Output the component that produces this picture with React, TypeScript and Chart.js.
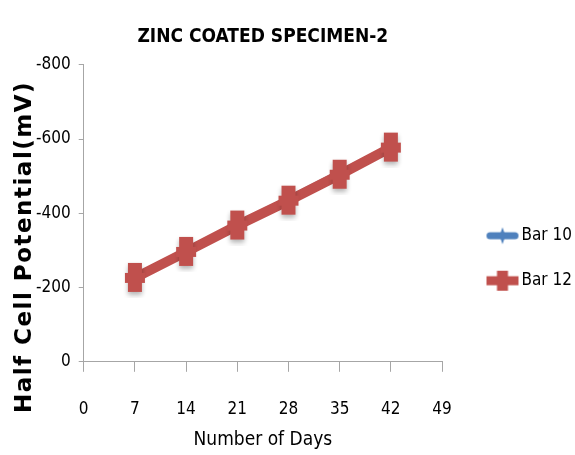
import React, { useEffect, useRef } from "react";
import { Chart, registerables } from "chart.js";

Chart.register(...registerables);

const TITLE = "ZINC COATED SPECIMEN-2";
const X_TITLE = "Number of Days";
const Y_TITLE = "Half Cell Potential(mV)";
const days = [7, 14, 21, 28, 35, 42];
const bar10 = [-232, -303, -373, -442, -512, -582];
const bar12 = [-226, -296, -367, -434, -504, -577];
const seriesNames = ["Bar 10", "Bar 12"];

const BLUE = "#4f81bd";
const RED = "#c0504d";
const NARROW = '"DejaVu Sans Condensed", "Liberation Sans Narrow", sans-serif';

function makeCanvas(w: number, h: number) {
  const c = document.createElement("canvas");
  c.width = w;
  c.height = h;
  return c;
}

function drawStar(ctx: CanvasRenderingContext2D, cx: number, cy: number, rx: number, ry: number, color: string) {
  ctx.fillStyle = color;
  ctx.beginPath();
  ctx.moveTo(cx, cy - ry);
  ctx.lineTo(cx + rx * 0.3, cy - ry * 0.3);
  ctx.lineTo(cx + rx, cy);
  ctx.lineTo(cx + rx * 0.3, cy + ry * 0.3);
  ctx.lineTo(cx, cy + ry);
  ctx.lineTo(cx - rx * 0.3, cy + ry * 0.3);
  ctx.lineTo(cx - rx, cy);
  ctx.lineTo(cx - rx * 0.3, cy - ry * 0.3);
  ctx.closePath();
  ctx.fill();
}

function bluePoint() {
  const c = makeCanvas(14, 18);
  const ctx = c.getContext("2d")!;
  drawStar(ctx, 7, 9, 6, 8, BLUE);
  return c;
}

function redPoint() {
  const c = makeCanvas(30, 40);
  const ctx = c.getContext("2d")!;
  ctx.shadowColor = "rgba(0,0,0,0.3)";
  ctx.shadowBlur = 5;
  ctx.shadowOffsetY = 3;
  ctx.fillStyle = RED;
  ctx.fillRect(8, 5, 14, 29);
  ctx.shadowColor = "rgba(0,0,0,0)";
  ctx.fillRect(5, 15, 20, 10);
  return c;
}

// legend images: marker drawn in the right part of a wider transparent canvas
function blueLegend() {
  const c = makeCanvas(58, 18);
  const ctx = c.getContext("2d")!;
  ctx.strokeStyle = BLUE;
  ctx.lineWidth = 7;
  ctx.lineCap = "round";
  ctx.beginPath();
  ctx.moveTo(27.5, 9);
  ctx.lineTo(52.5, 9);
  ctx.stroke();
  drawStar(ctx, 40, 9, 7, 8.5, BLUE);
  return c;
}

function redLegend() {
  const c = makeCanvas(58, 24);
  const ctx = c.getContext("2d")!;
  ctx.fillStyle = RED;
  ctx.fillRect(24, 7.5, 32, 9);
  ctx.fillRect(34.5, 2, 11, 20);
  return c;
}

const yTitlePlugin = {
  id: "yTitlePlugin",
  afterDraw(chart: any) {
    const ctx = chart.ctx as any;
    ctx.save();
    ctx.translate(25, 247);
    ctx.rotate(-Math.PI / 2);
    ctx.textAlign = "center";
    ctx.textBaseline = "middle";
    ctx.fillStyle = "#000";
    ctx.font = 'bold 23px "DejaVu Sans", Verdana, sans-serif';
    ctx.letterSpacing = "1.5px";
    ctx.fillText(Y_TITLE, 0, 0);
    ctx.restore();
  },
};

export default function App() {
  const ref = useRef<HTMLCanvasElement>(null);

  useEffect(() => {
    if (!ref.current) return;
    const bp = bluePoint();
    const rp = redPoint();
    const legendImgs = [blueLegend(), redLegend()];
    const chart = new Chart(ref.current, {
      type: "line",
      data: {
        datasets: [
          {
            label: seriesNames[0],
            data: days.map((d, i) => ({ x: d, y: bar10[i] })),
            borderColor: BLUE,
            backgroundColor: BLUE,
            borderWidth: 4,
            pointStyle: bp as any,
            order: 1,
          },
          {
            label: seriesNames[1],
            data: days.map((d, i) => ({ x: d, y: bar12[i] })),
            borderColor: RED,
            backgroundColor: RED,
            borderWidth: 10,
            pointStyle: rp as any,
            order: 0,
          },
        ],
      },
      options: {
        animation: false,
        responsive: true,
        maintainAspectRatio: false,
        layout: { padding: { left: 28, right: -5, top: 0, bottom: 2 } },
        plugins: {
          tooltip: { enabled: false },
          title: {
            display: true,
            fullSize: false,
            text: TITLE,
            color: "#000",
            font: { family: NARROW, size: 19, weight: "bold" },
            padding: { top: 26, bottom: 16 },
          },
          legend: {
            position: "right",
            align: "center",
            title: { display: true, text: "", padding: { top: 39, bottom: 10 }, font: { size: 12 } },
            labels: {
              usePointStyle: true,
              pointStyleWidth: 43,
              padding: 28,
              color: "#000",
              font: { family: NARROW, size: 17 },
              generateLabels: () =>
                seriesNames.map((name, i) => ({
                  text: name,
                  pointStyle: legendImgs[i] as any,
                  fillStyle: i === 0 ? BLUE : RED,
                  strokeStyle: i === 0 ? BLUE : RED,
                  lineWidth: 0,
                  hidden: false,
                  datasetIndex: i,
                  fontColor: "#000",
                })),
            },
          },
        },
        scales: {
          x: {
            type: "linear",
            min: 0,
            max: 49,
            ticks: { stepSize: 7, color: "#000", padding: 28, font: { family: NARROW, size: 17 } },
            grid: { drawOnChartArea: false, drawTicks: true, tickLength: 10, color: "#a6a6a6" },
            border: { color: "#a6a6a6", width: 1 },
            title: {
              display: true,
              text: X_TITLE,
              color: "#000",
              font: { family: NARROW, size: 19 },
              padding: { top: -20, bottom: 2 },
            },
          },
          y: {
            type: "linear",
            min: -800,
            max: 0,
            reverse: true,
            ticks: { stepSize: 200, color: "#000", padding: 8, font: { family: NARROW, size: 17 } },
            grid: { drawOnChartArea: false, drawTicks: true, tickLength: 5, color: "#a6a6a6" },
            border: { color: "#a6a6a6", width: 1 },
          },
        },
      },
      plugins: [yTitlePlugin],
    });
    return () => chart.destroy();
  }, []);

  return (
    <div style={{ position: "fixed", left: 0, top: 0, width: 575, height: 455, background: "#fff" }}>
      <canvas ref={ref} />
    </div>
  );
}
